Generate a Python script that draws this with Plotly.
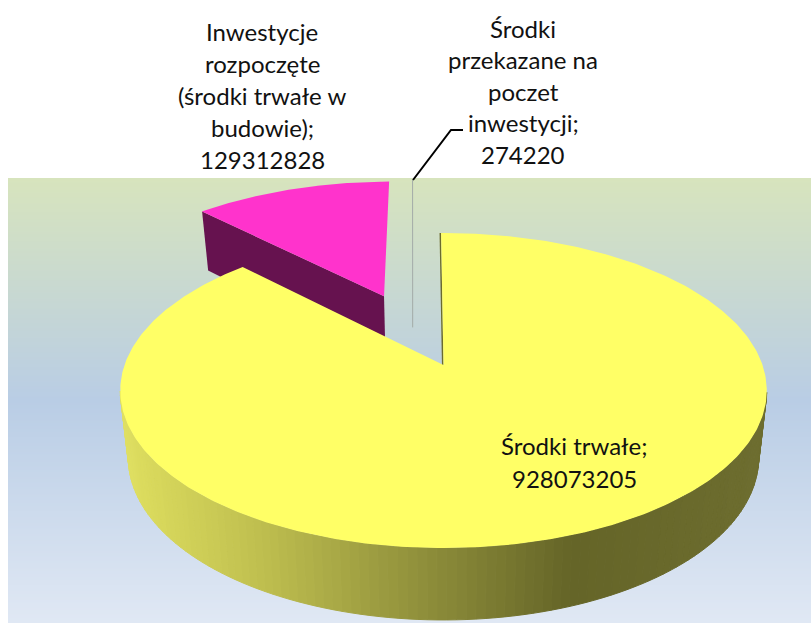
import numpy as np
import plotly.graph_objects as go

# --- data ---
labels = ["Środki trwałe", "Inwestycje rozpoczęte (środki trwałe w budowie)", "Środki przekazane na poczet inwestycji"]
values = [928073205, 129312828, 274220]

label_lines_main = ["Środki trwałe;", "928073205"]
label_lines_inv = ["Inwestycje", "rozpoczęte", "(środki trwałe w", "budowie);", "129312828"]
label_lines_adv = ["Środki", "przekazane na", "poczet", "inwestycji;", "274220"]

# --- style / projection constants ---
W, H = 811, 623
CX, CY = 443.5, 365
A, B, K = 319, 153.4, 0.162      # pie radius on screen and perspective strength
ROT = -0.5                       # first slice rotation, degrees
EXPLODE = 0.523
D0, D1 = 66, 5.9                 # wall height
BOTTOM_SCALE = 0.975
FONT = "Lato"
FSIZE = 24
YELLOW, YELLOW_DARK = "#FFFF66", "#6B6B2D"
MAGENTA, MAGENTA_DARK = "#FF33CC", "#66124F"

total = sum(values)
sweeps = [v / total * 360 for v in values]
a0 = ROT
a1 = a0 + sweeps[0]
a2 = a1 + sweeps[1]
a3 = a2 + sweeps[2]


def disc(theta, r=1.0, off=(0.0, 0.0)):
    t = np.radians(theta)
    return r * np.sin(t) + off[0], -r * np.cos(t) + off[1]


def top(u, v):
    u, v = np.asarray(u, float), np.asarray(v, float)
    w = 1 - K * v
    return CX + A * u / w, CY + B * v / w


def bottom(u, v):
    u, v = np.asarray(u, float), np.asarray(v, float)
    w = 1 - K * v
    return CX + BOTTOM_SCALE * A * u / w, CY + B * v / w + D0 + D1 * v


def explode_offset(mid):
    t = np.radians(mid)
    return EXPLODE * np.sin(t), -EXPLODE * np.cos(t)


def sector(start, end, off=(0.0, 0.0), n=160):
    th = np.linspace(start, end, n)
    u, v = disc(th, 1.0, off)
    return np.r_[off[0], u, off[0]], np.r_[off[1], v, off[1]]


def poly(x, y, color, line=0.0):
    return go.Scatter(x=x, y=y, mode="lines", fill="toself", fillcolor=color,
                      line=dict(color=color, width=line), hoverinfo="skip", showlegend=False)


def lerp_color(x):
    xs = [120, 140, 259, 400, 570, 770]
    rs = [226, 220, 192, 150, 101, 110]
    gs = [226, 220, 192, 150, 101, 110]
    bs = [100, 94, 80, 62, 40, 48]
    return "rgb(%d,%d,%d)" % (np.interp(x, xs, rs), np.interp(x, xs, gs), np.interp(x, xs, bs))


traces = []

# background gradient: one row per pixel, y holds the row edges
bg_y = np.arange(178, H + 1)
bg_z = ((bg_y[:-1] - 178) / (H - 178)).reshape(-1, 1)
traces.append(go.Heatmap(x=[8, W], y=bg_y, z=bg_z, showscale=False, hoverinfo="skip",
                         colorscale=[[0, "#D7E4BD"], [0.5, "#B9CDE5"], [1, "#E0E8F4"]]))

# smallest slice: a hairline far from the others
sl_u = [-0.0976 - 0.003, -0.1165 - 0.004]
sl_v = [-0.255, -1.5]
sx, sy = top(sl_u, sl_v)
traces.append(go.Scatter(x=sx, y=sy, mode="lines", line=dict(color="#A3ABA8", width=1),
                         hoverinfo="skip", showlegend=False))

# exploded magenta slice
off = explode_offset((a1 + a2) / 2)
u0, v0 = off
u1, v1 = disc(a1, 1.0, off)
tx, ty = top([u1, u0], [v1, v0])
bx, by = bottom([u0, u1], [v0, v1])
traces.append(poly(np.r_[tx, bx, tx[0]], np.r_[ty, by, ty[0]], MAGENTA_DARK))
u, v = sector(a1, a2, off)
x, y = top(u, v)
traces.append(poly(x, y, MAGENTA))

# wall of the large slice, drawn as narrow coloured strips
edges = np.arange(100, 262, 1.5)
for s, e in zip(edges[:-1], edges[1:]):
    ua, va = disc(np.array([s, e]))
    txs, tys = top(ua, va)
    bxs, bys = bottom(ua[::-1], va[::-1])
    col = lerp_color((txs.mean() + bxs.mean()) / 2)
    traces.append(poly(np.r_[txs, bxs, txs[0]], np.r_[tys, bys, tys[0]], col, 1))

# inner edge of the large slice
ue, ve = disc(a0)
ex, ey = top([ue, 0], [ve, 0])
traces.append(go.Scatter(x=ex - 0.8, y=ey, mode="lines", line=dict(color=YELLOW_DARK, width=1.5),
                         hoverinfo="skip", showlegend=False))

# top of the large slice
u, v = sector(a0, a1, n=400)
x, y = top(u, v)
traces.append(poly(x, y, YELLOW))

# leader line
traces.append(go.Scatter(x=[413, 451, 463], y=[180, 130, 130], mode="lines",
                         line=dict(color="#000000", width=2), hoverinfo="skip", showlegend=False))

fig = go.Figure(traces)


def add_label(lines, xc, y0, dy):
    for i, t in enumerate(lines):
        fig.add_annotation(x=xc, y=y0 + i * dy, text=t, showarrow=False, xanchor="center", yanchor="middle",
                           font=dict(family=FONT, size=FSIZE, color="#111111"))


add_label(label_lines_inv, 262, 31, 32)
add_label(label_lines_adv, 523, 28, 31.5)
add_label(label_lines_main, 574, 445, 33)

fig.update_layout(width=W, height=H, margin=dict(l=0, r=0, t=0, b=0),
                  paper_bgcolor="#FFFFFF", plot_bgcolor="#FFFFFF", showlegend=False,
                  xaxis=dict(range=[0, W], visible=False, fixedrange=True),
                  yaxis=dict(range=[H, 0], visible=False, fixedrange=True))
fig.write_html("out.html", config={"displayModeBar": False},
               post_script="document.body.style.margin='0';")
